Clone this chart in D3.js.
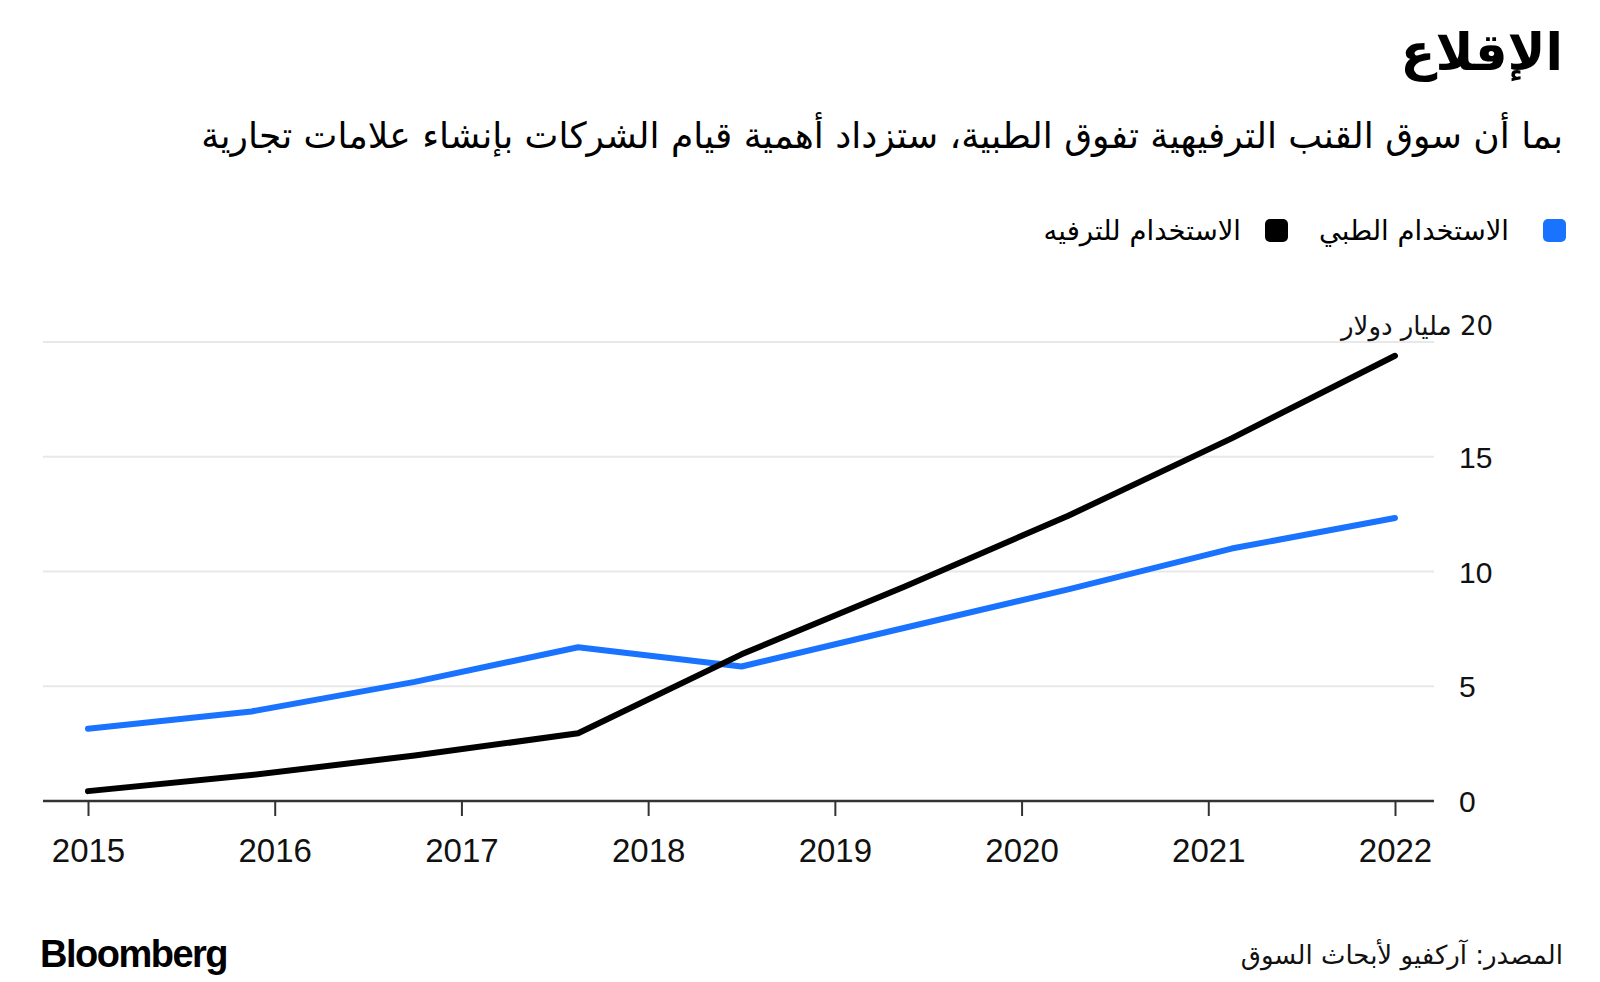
<!DOCTYPE html>
<html><head><meta charset="utf-8">
<script src="https://cdn.jsdelivr.net/npm/d3@7"></script>
<style>
body{margin:0;background:#fff;}
svg{display:block;}
.ar{font-family:"DejaVu Sans",sans-serif;direction:rtl;}
.num{font-family:"Liberation Sans",Arial,sans-serif;}
</style></head>
<body>
<svg id="chart" width="1600" height="982"></svg>
<script>
// Data (9 evenly spaced observations plotted across the 2015–2022 axis)
const positions = [0,1,2,3,4,5,6,7,8];
const medicalValues = [3.15, 3.9, 5.19, 6.7, 5.86, 7.55, 9.22, 11.0, 12.33];
const recreationalValues = [0.43, 1.13, 1.98, 2.95, 6.39, 9.35, 12.43, 15.8, 19.4];
const xTickLabels = ["2015","2016","2017","2018","2019","2020","2021","2022"];
const yTicks = [0,5,10,15,20];
const seriesNames = ["الاستخدام الطبي","الاستخدام للترفيه"];
const seriesColors = ["#1a73ff","#000000"];
const title = "الإقلاع";
const subtitle = "بما أن سوق القنب الترفيهية تفوق الطبية، ستزداد أهمية قيام الشركات بإنشاء علامات تجارية";
const unitLabel = "20 مليار دولار";
const source = "المصدر: آركفيو لأبحاث السوق";

const svg = d3.select("#chart");
const x = d3.scaleLinear().domain([0, 8]).range([88, 1395]);
const xYear = d3.scaleLinear().domain([2015, 2022]).range([88, 1395]);
const y = d3.scaleLinear().domain([0, 20]).range([801, 342]);
const gridL = 43, gridR = 1434;

// Title & subtitle
svg.append("text").attr("class","ar").attr("x",1563).attr("y",70)
  .attr("text-anchor","start").attr("font-size",51).attr("font-weight","bold").text(title);
svg.append("text").attr("class","ar").attr("x",1563).attr("y",148)
  .attr("text-anchor","start").attr("font-size",36).text(subtitle);

// Legend
const legend = [{name:seriesNames[0],color:seriesColors[0],sx:1543,tx:1509},
                {name:seriesNames[1],color:seriesColors[1],sx:1265,tx:1241}];
legend.forEach(d=>{
  svg.append("rect").attr("x",d.sx).attr("y",219).attr("width",23).attr("height",23)
    .attr("rx",5).attr("fill",d.color);
  svg.append("text").attr("class","ar").attr("x",d.tx).attr("y",240)
    .attr("text-anchor","start").attr("font-size",27.5).text(d.name);
});

// Gridlines
svg.append("g").selectAll("line").data(yTicks.filter(v=>v>0)).join("line")
  .attr("x1",gridL).attr("x2",gridR).attr("y1",d=>y(d)).attr("y2",d=>y(d))
  .attr("stroke","#e8e8e8").attr("stroke-width",2);

// Y labels
svg.append("g").selectAll("text").data(yTicks.filter(v=>v<20)).join("text")
  .attr("class","num").attr("x",1459).attr("y",d=>y(d)+11)
  .attr("font-size",30).attr("fill","#111").text(d=>d);
svg.append("text").attr("class","ar").attr("x",1493).attr("y",335)
  .attr("text-anchor","start").attr("font-size",26).attr("fill","#111").text(unitLabel);

// X axis
const xAxis = d3.axisBottom(xYear).tickValues(d3.range(2015,2023)).tickSize(15)
  .tickFormat((d,i)=>xTickLabels[i]);
const gx = svg.append("g").attr("transform",`translate(0,${y(0)})`).call(xAxis);
gx.select(".domain").remove();
gx.selectAll(".tick line").attr("stroke","#333").attr("stroke-width",2);
gx.selectAll(".tick text").attr("class","num").attr("font-size",33).attr("fill","#111").attr("dy",0).attr("y",61);
svg.append("line").attr("x1",gridL).attr("x2",gridR).attr("y1",y(0)).attr("y2",y(0))
  .attr("stroke","#333").attr("stroke-width",2.5);

// Lines
const line = d3.line().x((d,i)=>x(positions[i])).y(d=>y(d));
[medicalValues, recreationalValues].forEach((vals,k)=>{
  svg.append("path").datum(vals).attr("d",line).attr("fill","none")
    .attr("stroke",seriesColors[k]).attr("stroke-width",6)
    .attr("stroke-linecap","round").attr("stroke-linejoin","round");
});

// Footer
svg.append("text").attr("class","num").attr("x",40).attr("y",967)
  .attr("font-size",38).attr("font-weight","bold").attr("letter-spacing",-1.5).text("Bloomberg");
svg.append("text").attr("class","ar").attr("x",1563).attr("y",964)
  .attr("text-anchor","start").attr("font-size",26).attr("fill","#111").text(source);
</script>
</body></html>
